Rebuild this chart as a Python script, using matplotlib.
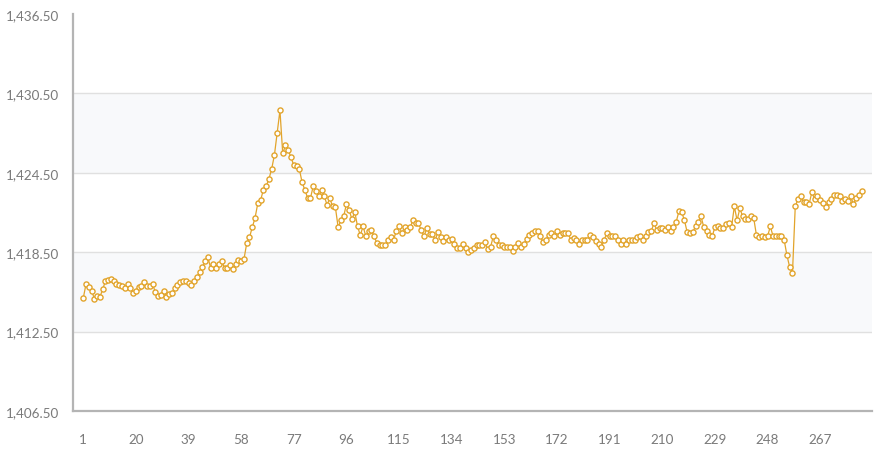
import matplotlib
matplotlib.use("Agg")
import matplotlib.pyplot as plt
from matplotlib.ticker import FuncFormatter, FixedLocator

plt.rcParams['font.family'] = ['Lato', 'DejaVu Sans']

values = [
    1415.02, 1416.10, 1415.90, 1415.60, 1415.00, 1415.17, 1415.10, 1415.70, 1416.30, 1416.40,
    1416.50, 1416.35, 1416.10, 1416.00, 1415.97, 1415.78, 1416.10, 1415.78, 1415.42, 1415.60,
    1415.90, 1415.93, 1416.23, 1415.97, 1415.93, 1416.10, 1415.50, 1415.17, 1415.30, 1415.60,
    1415.10, 1415.32, 1415.42, 1415.78, 1416.04, 1416.25, 1416.30, 1416.30, 1416.17, 1416.04,
    1416.30, 1416.63, 1416.98, 1417.36, 1417.80, 1418.10, 1417.30, 1417.60, 1417.30, 1417.60,
    1417.81, 1417.31, 1417.31, 1417.53, 1417.21, 1417.61, 1417.89, 1417.81, 1417.96, 1419.17,
    1419.62, 1420.38, 1421.08, 1422.19, 1422.42, 1423.20, 1423.47, 1424.02, 1424.78, 1425.84,
    1427.50, 1429.21, 1425.96, 1426.57, 1426.19, 1425.66, 1425.06, 1424.98, 1424.78, 1423.77,
    1423.20, 1422.59, 1422.59, 1423.47, 1423.10, 1422.72, 1423.17, 1422.72, 1422.08, 1422.57,
    1421.96, 1421.91, 1420.38, 1420.91, 1421.21, 1422.14, 1421.66, 1420.98, 1421.56, 1420.45,
    1419.78, 1420.45, 1419.70, 1420.08, 1420.15, 1419.70, 1419.17, 1419.07, 1419.02, 1419.07,
    1419.40, 1419.62, 1419.42, 1420.12, 1420.45, 1419.95, 1420.38, 1420.15, 1420.38, 1420.91,
    1420.73, 1420.68, 1420.15, 1419.70, 1420.30, 1419.90, 1419.90, 1419.40, 1420.00, 1419.62,
    1419.32, 1419.62, 1419.43, 1419.46, 1419.14, 1418.82, 1418.82, 1419.12, 1418.82, 1418.52,
    1418.69, 1418.82, 1419.07, 1419.07, 1419.07, 1419.25, 1418.72, 1418.87, 1419.70, 1419.44,
    1419.02, 1419.02, 1418.87, 1418.87, 1418.87, 1418.57, 1418.87, 1419.17, 1418.87, 1419.12,
    1419.47, 1419.82, 1419.95, 1420.12, 1420.12, 1419.70, 1419.25, 1419.42, 1419.82, 1419.92,
    1419.72, 1420.08, 1419.82, 1419.95, 1419.95, 1419.95, 1419.40, 1419.60, 1419.40, 1419.10,
    1419.40, 1419.40, 1419.40, 1419.77, 1419.62, 1419.32, 1419.12, 1418.87, 1419.40, 1419.95,
    1419.70, 1419.75, 1419.70, 1419.40, 1419.12, 1419.45, 1419.12, 1419.40, 1419.40, 1419.40,
    1419.62, 1419.70, 1419.45, 1419.70, 1420.02, 1420.07, 1420.70, 1420.15, 1420.33, 1420.33,
    1420.15, 1420.38, 1420.07, 1420.38, 1420.78, 1421.58, 1421.53, 1420.91, 1420.00, 1419.95,
    1420.02, 1420.45, 1420.75, 1421.20, 1420.38, 1420.07, 1419.80, 1419.70, 1420.38, 1420.48,
    1420.33, 1420.33, 1420.63, 1420.73, 1420.38, 1421.96, 1420.91, 1421.81, 1421.21, 1420.98,
    1420.98, 1421.21, 1421.08, 1419.77, 1419.62, 1419.70, 1419.62, 1419.70, 1420.45, 1419.70,
    1419.70, 1419.70, 1419.70, 1419.42, 1418.26, 1417.36, 1416.95, 1421.96, 1422.54, 1422.77,
    1422.27, 1422.27, 1422.14, 1423.04, 1422.49, 1422.72, 1422.42, 1422.21, 1421.89, 1422.29,
    1422.54, 1422.84, 1422.84, 1422.72, 1422.39, 1422.54, 1422.39, 1422.72, 1422.14, 1422.59,
    1422.79, 1423.10,
]
x_index = list(range(1, len(values) + 1))
x_ticks = [1, 20, 39, 58, 77, 96, 115, 134, 153, 172, 191, 210, 229, 248, 267]
y_ticks = [1406.5, 1412.5, 1418.5, 1424.5, 1430.5, 1436.5]

W, H = 886, 460
fig = plt.figure(figsize=(W / 100, H / 100), dpi=100)
ax = fig.add_axes([73 / W, 1 - 412 / H, (872 - 73) / W, (412 - 15.0) / H])

ax.set_ylim(1406.5, 1436.5)
ax.set_xlim(-2.7, 285.7)

# alternating bands
ax.axhspan(1412.5, 1418.5, color='#f8f9fb', zorder=0, lw=0)
ax.axhspan(1424.5, 1430.5, color='#f8f9fb', zorder=0, lw=0)
for yv in y_ticks[1:-1]:
    ax.axhline(yv, color='#e0e0e0', lw=1, zorder=1)

ax.plot(x_index, values, color='#e2a42b', lw=0.9, marker='o', markersize=3.7,
        markerfacecolor='white', markeredgecolor='#e2a42b', markeredgewidth=1.0, zorder=3)

ax.yaxis.set_major_locator(FixedLocator(y_ticks))
ax.yaxis.set_major_formatter(FuncFormatter(lambda v, p: f"{v:,.2f}"))
ax.xaxis.set_major_locator(FixedLocator(x_ticks))

for s in ['top', 'right']:
    ax.spines[s].set_visible(False)
for s in ['left', 'bottom']:
    ax.spines[s].set_color('#b4b4b4')
    ax.spines[s].set_linewidth(1.6)

ax.tick_params(axis='both', length=0, colors='#7a7a7a', labelsize=9.7)
ax.tick_params(axis='y', pad=10)
ax.tick_params(axis='x', pad=16)

fig.savefig('out.png', dpi=100)
